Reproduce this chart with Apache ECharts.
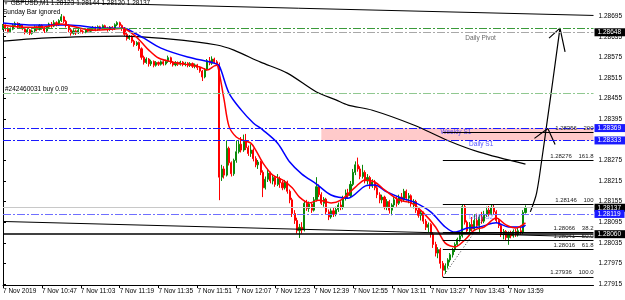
<!DOCTYPE html>
<html>
<head>
<meta charset="utf-8">
<script src="https://cdn.jsdelivr.net/npm/echarts@6/dist/echarts.min.js"></script>
<style>
html, body { margin: 0; padding: 0; background: #fff; }
#chart { width: 625px; height: 300px; }
</style>
</head>
<body>
<div id="chart"></div>
<script>
// GBPUSD M1, 7 Nov 2019 10:31 .. 14:06, one slot per minute, chart shifted to 243
const timeLabels = ['7 Nov 2019', '7 Nov 10:47', '7 Nov 11:03', '7 Nov 11:19', '7 Nov 11:35', '7 Nov 11:51', '7 Nov 12:07',
  '7 Nov 12:23', '7 Nov 12:39', '7 Nov 12:55', '7 Nov 13:11', '7 Nov 13:27', '7 Nov 13:43', '7 Nov 13:59']
const labelSlots = [0, 16, 32, 48, 64, 80, 96, 112, 128, 144, 160, 176, 192, 208]
const priceTicks = [1.27915, 1.27975, 1.28035, 1.28095, 1.28155, 1.28215, 1.28275, 1.28335, 1.28395, 1.28455,
  1.28515, 1.28575, 1.28635, 1.28695]

// [open, close, low, high]
const bars = [
  [1.28662,1.28668,1.28655,1.28672],[1.28668,1.28660,1.28652,1.28671],[1.28660,1.28650,1.28645,1.28664],[1.28650,1.28657,1.28646,1.28662],
  [1.28657,1.28668,1.28654,1.28673],[1.28668,1.28674,1.28663,1.28679],[1.28674,1.28665,1.28660,1.28677],[1.28665,1.28670,1.28661,1.28675],
  [1.28670,1.28658,1.28654,1.28672],[1.28658,1.28648,1.28642,1.28661],[1.28648,1.28655,1.28644,1.28659],[1.28655,1.28645,1.28640,1.28658],
  [1.28645,1.28652,1.28641,1.28656],[1.28652,1.28664,1.28649,1.28668],[1.28664,1.28656,1.28651,1.28667],[1.28656,1.28668,1.28653,1.28672],
  [1.28668,1.28660,1.28655,1.28671],[1.28660,1.28652,1.28646,1.28663],[1.28652,1.28663,1.28649,1.28667],[1.28663,1.28672,1.28659,1.28676],
  [1.28672,1.28666,1.28661,1.28678],[1.28666,1.28676,1.28663,1.28683],[1.28676,1.28670,1.28665,1.28680],[1.28670,1.28682,1.28667,1.28686],
  [1.28682,1.28693,1.28678,1.28701],[1.28693,1.28680,1.28675,1.28696],[1.28680,1.28668,1.28662,1.28684],[1.28668,1.28655,1.28648,1.28671],
  [1.28655,1.28645,1.28638,1.28659],[1.28645,1.28652,1.28641,1.28657],[1.28652,1.28646,1.28640,1.28656],[1.28646,1.28654,1.28643,1.28658],
  [1.28654,1.28650,1.28645,1.28657],[1.28650,1.28648,1.28644,1.28654],[1.28648,1.28655,1.28645,1.28659],[1.28655,1.28651,1.28646,1.28658],
  [1.28651,1.28657,1.28647,1.28661],[1.28657,1.28662,1.28653,1.28666],[1.28662,1.28656,1.28651,1.28665],[1.28656,1.28664,1.28652,1.28668],
  [1.28664,1.28659,1.28654,1.28667],[1.28659,1.28667,1.28656,1.28671],[1.28667,1.28661,1.28656,1.28670],[1.28661,1.28656,1.28650,1.28664],
  [1.28656,1.28663,1.28652,1.28666],[1.28663,1.28658,1.28653,1.28666],[1.28658,1.28670,1.28655,1.28674],[1.28670,1.28676,1.28666,1.28680],
  [1.28676,1.28668,1.28663,1.28679],[1.28668,1.28660,1.28652,1.28671],
  [1.28660,1.28642,1.28637,1.28663],[1.28642,1.28630,1.28624,1.28646],[1.28630,1.28636,1.28626,1.28640],[1.28636,1.28622,1.28617,1.28639],
  [1.28622,1.28612,1.28606,1.28626],[1.28612,1.28618,1.28608,1.28622],[1.28618,1.28600,1.28594,1.28621],[1.28600,1.28575,1.28568,1.28604],
  [1.28575,1.28560,1.28554,1.28580],[1.28560,1.28570,1.28556,1.28575],[1.28570,1.28556,1.28548,1.28573],[1.28556,1.28563,1.28550,1.28568],
  [1.28563,1.28552,1.28546,1.28566],[1.28552,1.28560,1.28548,1.28564],[1.28560,1.28555,1.28550,1.28563],[1.28555,1.28562,1.28551,1.28566],
  [1.28562,1.28556,1.28551,1.28566],[1.28556,1.28563,1.28552,1.28568],[1.28563,1.28574,1.28559,1.28580],[1.28574,1.28560,1.28555,1.28577],
  [1.28560,1.28553,1.28548,1.28564],[1.28553,1.28560,1.28549,1.28564],[1.28560,1.28555,1.28550,1.28563],[1.28555,1.28561,1.28551,1.28565],
  [1.28561,1.28554,1.28549,1.28564],[1.28554,1.28558,1.28549,1.28562],[1.28558,1.28552,1.28546,1.28561],[1.28552,1.28557,1.28547,1.28561],
  [1.28557,1.28549,1.28544,1.28560],[1.28549,1.28553,1.28543,1.28557],[1.28553,1.28545,1.28538,1.28556],[1.28545,1.28535,1.28530,1.28549],
  [1.28535,1.28518,1.28506,1.28538],[1.28518,1.28540,1.28514,1.28544],[1.28540,1.28565,1.28536,1.28570],[1.28565,1.28558,1.28552,1.28576],
  [1.28558,1.28570,1.28553,1.28578],[1.28570,1.28562,1.28556,1.28574],[1.28562,1.28555,1.28550,1.28567],[1.28555,1.28226,1.28159,1.28560],
  [1.28226,1.28250,1.28215,1.28262],[1.28250,1.28232,1.28222,1.28258],[1.28232,1.28310,1.28228,1.28333],[1.28310,1.28268,1.28260,1.28315],
  [1.28268,1.28236,1.28228,1.28272],[1.28236,1.28275,1.28230,1.28280],[1.28275,1.28300,1.28268,1.28333],[1.28300,1.28322,1.28295,1.28335],
  [1.28322,1.28305,1.28298,1.28343],[1.28305,1.28330,1.28300,1.28350],[1.28330,1.28312,1.28305,1.28352],[1.28312,1.28295,1.28288,1.28318],
  [1.28295,1.28305,1.28285,1.28322],[1.28305,1.28280,1.28272,1.28310],[1.28280,1.28262,1.28255,1.28287],[1.28262,1.28270,1.28250,1.28276],
  [1.28270,1.28240,1.28232,1.28274],[1.28240,1.28195,1.28168,1.28246],[1.28195,1.28220,1.28190,1.28228],[1.28220,1.28238,1.28212,1.28247],
  [1.28238,1.28215,1.28208,1.28242],[1.28215,1.28225,1.28205,1.28232],[1.28225,1.28205,1.28198,1.28230],[1.28205,1.28222,1.28200,1.28235],
  [1.28222,1.28210,1.28195,1.28228],[1.28210,1.28195,1.28188,1.28215],[1.28195,1.28212,1.28190,1.28218],[1.28212,1.28185,1.28178,1.28216],
  [1.28185,1.28160,1.28150,1.28190],[1.28160,1.28120,1.28110,1.28166],[1.28120,1.28100,1.28090,1.28130],[1.28100,1.28070,1.28062,1.28108],
  [1.28070,1.28080,1.28049,1.28090],[1.28080,1.28072,1.28062,1.28095],[1.28072,1.28150,1.28068,1.28158],[1.28150,1.28135,1.28128,1.28160],
  [1.28135,1.28148,1.28125,1.28155],[1.28148,1.28130,1.28122,1.28152],[1.28130,1.28160,1.28126,1.28168],[1.28160,1.28198,1.28155,1.28226],
  [1.28198,1.28175,1.28168,1.28205],[1.28175,1.28150,1.28145,1.28182],[1.28150,1.28162,1.28140,1.28168],[1.28162,1.28125,1.28118,1.28166],
  [1.28125,1.28110,1.28101,1.28132],[1.28110,1.28128,1.28105,1.28135],[1.28128,1.28118,1.28110,1.28138],[1.28118,1.28132,1.28112,1.28140],
  [1.28132,1.28145,1.28125,1.28152],[1.28145,1.28138,1.28130,1.28156],[1.28138,1.28165,1.28132,1.28172],[1.28165,1.28180,1.28158,1.28190],
  [1.28180,1.28172,1.28165,1.28192],[1.28172,1.28205,1.28168,1.28215],[1.28205,1.28240,1.28200,1.28250],[1.28240,1.28262,1.28232,1.28272],
  [1.28262,1.28250,1.28242,1.28283],[1.28250,1.28228,1.28220,1.28258],[1.28228,1.28240,1.28222,1.28262],[1.28240,1.28215,1.28208,1.28246],
  [1.28215,1.28225,1.28205,1.28235],[1.28225,1.28200,1.28192,1.28230],[1.28200,1.28212,1.28195,1.28220],[1.28212,1.28195,1.28188,1.28218],
  [1.28195,1.28175,1.28165,1.28200],[1.28175,1.28160,1.28150,1.28182],[1.28160,1.28168,1.28150,1.28175],[1.28168,1.28140,1.28132,1.28172],
  [1.28140,1.28155,1.28130,1.28162],[1.28155,1.28130,1.28120,1.28160],[1.28130,1.28145,1.28115,1.28150],[1.28145,1.28160,1.28138,1.28168],
  [1.28160,1.28150,1.28140,1.28170],[1.28150,1.28168,1.28145,1.28175],[1.28168,1.28160,1.28152,1.28180],[1.28160,1.28185,1.28155,1.28192],
  [1.28185,1.28165,1.28158,1.28190],[1.28165,1.28172,1.28150,1.28180],[1.28172,1.28148,1.28140,1.28176],[1.28148,1.28155,1.28135,1.28162],
  [1.28155,1.28130,1.28122,1.28160],[1.28130,1.28115,1.28108,1.28136],[1.28115,1.28122,1.28100,1.28128],[1.28122,1.28098,1.28090,1.28126],
  [1.28098,1.28080,1.28072,1.28104],[1.28080,1.28088,1.28066,1.28094],[1.28088,1.28060,1.28050,1.28092],[1.28060,1.28030,1.28020,1.28066],
  [1.28030,1.28005,1.27995,1.28038],[1.28005,1.28015,1.27990,1.28022],[1.28015,1.27975,1.27960,1.28020],[1.27975,1.27955,1.27936,1.27982],
  [1.27955,1.27968,1.27945,1.27975],[1.27968,1.27985,1.27960,1.27990],[1.27985,1.28000,1.27978,1.28005],[1.28000,1.28015,1.27992,1.28020],
  [1.28015,1.28030,1.28008,1.28036],[1.28030,1.28045,1.28025,1.28050],[1.28045,1.28055,1.28038,1.28062],[1.28055,1.28140,1.28050,1.28146],
  [1.28140,1.28095,1.28088,1.28146],[1.28095,1.28070,1.28062,1.28100],[1.28070,1.28088,1.28065,1.28095],[1.28088,1.28075,1.28068,1.28110],
  [1.28075,1.28100,1.28070,1.28118],[1.28100,1.28085,1.28078,1.28120],[1.28085,1.28110,1.28066,1.28116],[1.28110,1.28098,1.28090,1.28125],
  [1.28098,1.28118,1.28092,1.28128],[1.28118,1.28130,1.28110,1.28140],[1.28130,1.28120,1.28112,1.28142],[1.28120,1.28138,1.28115,1.28146],
  [1.28138,1.28125,1.28118,1.28146],[1.28125,1.28100,1.28092,1.28130],[1.28100,1.28085,1.28078,1.28106],[1.28085,1.28060,1.28052,1.28090],
  [1.28060,1.28068,1.28045,1.28075],[1.28068,1.28050,1.28040,1.28072],[1.28050,1.28062,1.28029,1.28068],[1.28062,1.28055,1.28048,1.28070],
  [1.28055,1.28068,1.28050,1.28074],[1.28068,1.28058,1.28052,1.28075],[1.28058,1.28070,1.28053,1.28078],[1.28070,1.28066,1.28058,1.28080],
  [1.28066,1.28123,1.28060,1.28130],[1.28123,1.28137,1.28120,1.28144]
]

// moving averages: [slot, price]
const fastMA = [[0,1.28669],[8,1.28663],[16,1.28663],[24,1.28672],[28,1.28666],[37,1.28654],[45,1.28657],[49,1.28660],[54,1.28640],
  [57,1.28619],[60,1.28596],[64,1.28573],[70,1.28561],[81,1.28547],[84,1.28538],[87,1.28550],[88,1.28552],[89,1.28529],[91,1.28451],
  [93,1.28374],[96,1.28343],[99,1.28333],[102,1.28325],[104,1.28305],[107,1.28267],[111,1.28232],[115,1.28218],[119,1.28195],
  [122,1.28168],[126,1.28151],[130,1.28159],[135,1.28151],[139,1.28159],[145,1.28197],[149,1.28218],[153,1.28212],[157,1.28189],
  [163,1.28159],[168,1.28151],[173,1.28122],[178,1.28081],[182,1.28034],[186,1.28023],[190,1.28043],[194,1.28072],[198,1.28081],
  [203,1.28107],[207,1.28087],[211,1.28078],[215,1.28093]]
const midMA = [[0,1.28675],[13,1.28669],[27,1.28669],[41,1.28660],[50,1.28660],[54,1.28646],[58,1.28631],[65,1.28602],[76,1.28576],
  [87,1.28558],[89,1.28550],[93,1.28471],[98,1.28422],[103,1.28384],[107,1.28363],[113,1.28325],[118,1.28270],[123,1.28235],
  [129,1.28206],[135,1.28174],[142,1.28165],[149,1.28200],[153,1.28203],[158,1.28183],[164,1.28165],[169,1.28154],[176,1.28125],
  [182,1.28081],[186,1.28066],[191,1.28078],[196,1.28081],[203,1.28093],[208,1.28081],[214,1.28081],[215,1.28087]]
const slowMA = [[0,1.28622],[16,1.28631],[49,1.28637],[69,1.28628],[88,1.28611],[95,1.28596],[106,1.28561],[117,1.28529],
  [129,1.28474],[137,1.28451],[142,1.28436],[152,1.28421],[169,1.28378],[183,1.28333],[196,1.28299],[215,1.28264]]

// horizontal objects
const pivotUpper = 1.28659
const dailyPivot = 1.28648
const orderPrice = 1.28469
const weeklyS1 = 1.28369
const dailyS1 = 1.28333
const bidPrice = 1.28137
const dailyS2 = 1.28119
const supportLine = 1.28060
const orderText = '#242460031 buy 0.09'

// fibonacci
const fibPrices = [1.28356, 1.28276, 1.28146, 1.28066, 1.28041, 1.28016, 1.27936]
const fibNames = ['200', '161.8', '100', '38.2', '50.0', '61.8', '100.0']
const fibStart = 181
const fibDiagonal = [[181, 1.27936], [202, 1.28146]]
const zoneStart = 131
const lastSlot = 243

// trend lines and hand drawn arrow
const topTrend = [[0, 1.28739], [243, 1.28697]]
const lowTrend = [[0, 1.28097], [243, 1.28052]]
const arrowPath = [[217.0,1.28125],[218.2,1.28148],[219.6,1.28180],[221.7,1.28276],[224.0,1.28392],[226.3,1.28509],[229.2,1.28660]]
const arrowTip = [[224.7,1.28631],[229.2,1.28660],[231.3,1.28591]]
const smallTip = [[218.7,1.28339],[224.2,1.28368],[227.2,1.28321]]

const noteText = ['Daily Pivot', 'Weekly S1', 'Daily S1', 'Daily S2']
const notePos = [[190.2, 1.28632], [180, 1.28356], [191.8, 1.28321], [191.8, 1.28110]]
const noteColors = ['#404040', '#2a2aff', '#2a2aff', '#6a6aff']

const font = 'Liberation Sans'
const dashDot = [8, 2, 2, 2]

const chart = echarts.init(document.getElementById('chart'))

const boxLabel = (bg) => ({
	show: true,
	position: 'end',
	distance: 1,
	formatter: (p) => p.value.toFixed(5),
	color: '#fff',
	backgroundColor: bg,
	padding: [1, 4, 0, 3],
	fontSize: 6.5,
	fontFamily: font,
})

const level = (value, color, type, width, label) => ({
	yAxis: value,
	lineStyle: { color, type, width },
	label: label || { show: false },
})

const last = bars[bars.length - 1]
const header = ['GBPUSD,M1', last[0], last[3], last[2], last[1]].map((v) => (typeof v === 'number' ? v.toFixed(5) : v))

const trend = (data, extra) => ({
	type: 'line',
	data,
	showSymbol: false,
	silent: true,
	z: 4,
	lineStyle: Object.assign({ color: '#000', width: 1 }, extra || {}),
	...(extra && extra.smooth ? { smooth: extra.smooth } : {}),
})

const option = {
	animation: false,
	backgroundColor: '#fff',
	title: {
		text: '{t|▼} ' + header.join(' '),
		subtext: 'Sunday Bar ignored',
		left: 1,
		top: -1,
		padding: [1, 2],
		itemGap: 2,
		textStyle: {
			fontSize: 6.5, fontWeight: 'normal', color: '#000', fontFamily: font,
			rich: { t: { fontSize: 6, color: '#777' } },
		},
		subtextStyle: { fontSize: 6.5, color: '#000', fontFamily: font },
	},
	grid: { left: 0, right: 27, top: 0, bottom: 15 },
	xAxis: {
		type: 'value',
		min: 0,
		max: lastSlot,
		splitLine: { show: false },
		axisLine: { lineStyle: { color: '#000', width: 1 } },
		axisTick: { customValues: labelSlots, length: 3, lineStyle: { color: '#000' } },
		axisLabel: {
			customValues: labelSlots,
			formatter: (v) => timeLabels[labelSlots.indexOf(Math.round(v))] || '',
			align: 'left',
			margin: 3,
			fontSize: 6.5,
			color: '#000',
			fontFamily: font,
		},
	},
	yAxis: {
		type: 'value',
		position: 'right',
		min: 1.27912,
		max: 1.28742,
		splitLine: { show: false },
		axisLine: { show: true, lineStyle: { color: '#000', width: 1 } },
		axisTick: { show: true, customValues: priceTicks, length: 3, lineStyle: { color: '#000' } },
		axisLabel: {
			customValues: priceTicks,
			formatter: (v) => v.toFixed(5),
			margin: 5,
			fontSize: 6.5,
			color: '#000',
			fontFamily: font,
		},
	},
	series: [
		{
			name: 'levels',
			type: 'line',
			data: [],
			z: 1,
			silent: true,
			markArea: {
				silent: true,
				itemStyle: { color: '#ffcaca' },
				data: [[{ coord: [zoneStart, dailyS1] }, { coord: [lastSlot, weeklyS1] }]],
			},
			markLine: {
				silent: true,
				symbol: ['none', 'none'],
				precision: 5,
				data: [
					level(pivotUpper, '#3a9a3a', dashDot, 1),
					level(dailyPivot, '#a8a8a8', dashDot, 1, boxLabel('#000')),
					level(orderPrice, '#90c890', dashDot, 1, {
						show: true, position: 'insideStartTop', distance: [2, 1], formatter: orderText,
						fontSize: 6.5, color: '#000', fontFamily: font,
					}),
					level(weeklyS1, '#1a1aff', dashDot, 1, boxLabel('#1a1aff')),
					level(dailyS1, '#1a1aff', dashDot, 1, boxLabel('#1a1aff')),
					level(bidPrice, '#c8c8c8', 'solid', 1, boxLabel('#000')),
					level(dailyS2, '#6f6fff', dashDot, 1, boxLabel('#1a1aff')),
					level(supportLine, '#000', 'solid', 1.5, boxLabel('#000')),
					...fibPrices.map((p, k) => [
						{
							coord: [fibStart, p],
							lineStyle: { color: '#000', width: 1, type: 'solid' },
							label: {
								show: true, position: 'insideEndTop', distance: [0, 1],
								formatter: p.toFixed(5) + '    ' + fibNames[k],
								fontSize: 6, color: '#222', fontFamily: font,
							},
						},
						{ coord: [lastSlot, p] },
					]),
				],
			},
		},
		{
			name: 'GBPUSD',
			type: 'candlestick',
			z: 2,
			barWidth: 1.6,
			data: bars.map((b, i) => [i, b[0], b[1], b[2], b[3]]),
			encode: { x: 0, y: [1, 2, 3, 4] },
			itemStyle: {
				color: '#0b8a0b', color0: '#ff0000',
				borderColor: '#0b8a0b', borderColor0: '#ff0000',
				borderWidth: 1,
			},
		},
		{ type: 'line', data: slowMA, smooth: 0.3, showSymbol: false, z: 3, lineStyle: { color: '#000', width: 1.2 } },
		{ type: 'line', data: midMA, smooth: 0.3, showSymbol: false, z: 3, lineStyle: { color: '#0000ff', width: 1.5 } },
		{ type: 'line', data: fastMA, smooth: 0.3, showSymbol: false, z: 3, lineStyle: { color: '#ff0000', width: 1.5 } },
		trend(topTrend),
		trend(lowTrend),
		trend(fibDiagonal, { type: [1, 2], color: '#333' }),
		trend(arrowPath, { width: 1.2, smooth: 0.4 }),
		trend(arrowTip, { width: 1.2 }),
		trend(smallTip, { width: 1.2 }),
		{
			type: 'scatter',
			z: 2,
			silent: true,
			symbolSize: 0,
			data: notePos.map((p, k) => ({
				value: p,
				name: noteText[k],
				label: { color: noteColors[k] },
			})),
			label: {
				show: true, position: 'right', distance: 0, formatter: '{b}',
				fontSize: 6.5, fontFamily: font,
			},
		},
	],
}

chart.setOption(option)
window.addEventListener('resize', () => chart.resize())
</script>
</body>
</html>
